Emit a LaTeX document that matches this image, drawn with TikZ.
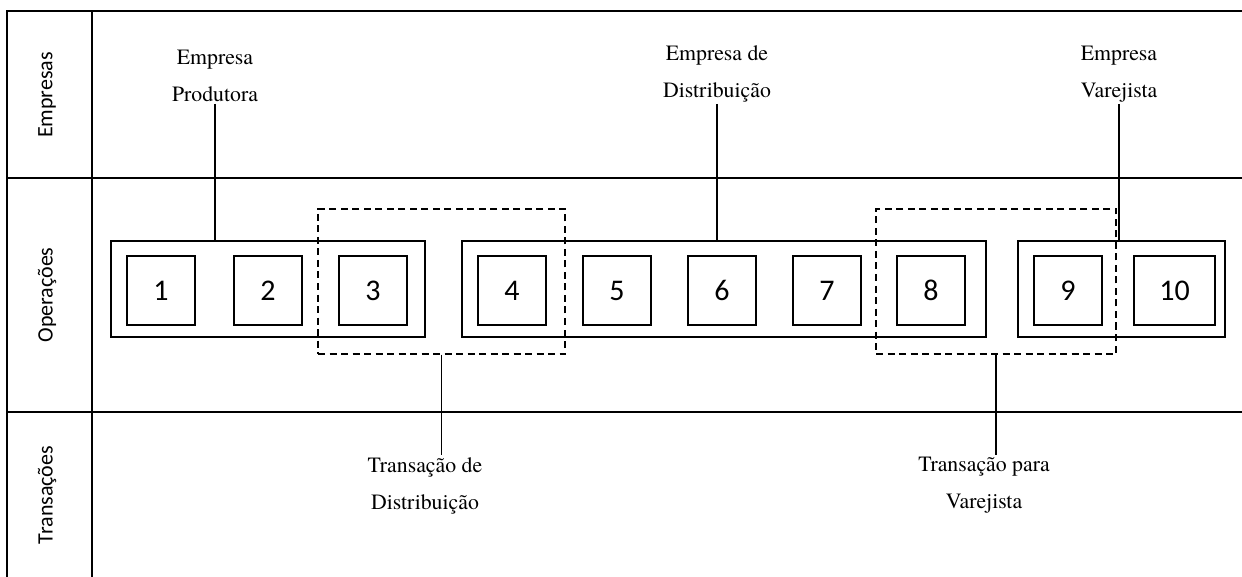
\documentclass[tikz,border=0pt]{standalone}
\usepackage{fontspec}
\newfontfamily\timesf{texgyretermes-regular.otf}
\newfontfamily\carlito{Carlito}
\usetikzlibrary{positioning}

\begin{document}
\begin{tikzpicture}[x=1pt, y=-1pt,
  op/.style={draw, line width=1.4pt, minimum width=68pt, minimum height=69pt, inner sep=0pt, font=\carlito\fontsize{30}{36}\selectfont},
  grp/.style={draw, line width=1.4pt, minimum height=96pt, inner sep=0pt},
  trans/.style={draw, line width=1.4pt, dash pattern=on 7pt off 4.5pt, minimum height=145pt, inner sep=0pt},
  lbl/.style={align=center, font=\timesf\fontsize{21.8}{37}\selectfont, inner sep=2pt},
  row/.style={rotate=90, font=\carlito\fontsize{22}{26}\selectfont},
  link/.style={line width=1.4pt}]
\useasboundingbox (0,0) rectangle (1242,577);
% table
\draw[line width=2.2pt] (1242,11) -- (7,11) -- (7,577);
\draw[line width=2.2pt] (92,11) -- (92,577);
\foreach \y in {178,412} {
 \draw[line width=2.2pt] (7,\y) -- (1242,\y);
}
\node[row] (rEmp) at (47,95) {Empresas};
\node[row] (rOpe) at (47,295) {Operações};
\node[row] (rTra) at (47,495) {Transações};
% empresas
\node[grp, minimum width=314pt] (g1) at (268,289) {};
\node[grp, minimum width=524pt] (g2) at (724,289) {};
\node[grp, minimum width=207pt] (g3) at (1121.5,289) {};
% operacoes
\foreach \n/\x in {1/161, 2/268, 3/373, 4/512, 5/617, 6/722, 7/827, 8/931, 9/1068} {
 \node[op] (o\n) at (\x,290.5) {\n};
}
\node[op, minimum width=81pt] (o10) at (1174.5,290.5) {10};
% transacoes
\node[trans, minimum width=247pt] (t1) at (441.5,281.5) {};
\node[trans, minimum width=240pt] (t2) at (996,281.5) {};
% legendas
\node[lbl, anchor=south] (eProd) at (215,104) {Empresa\\Produtora};
\node[lbl, anchor=south] (eDist) at (717,104) {Empresa de\\Distribuição};
\node[lbl, anchor=south] (eVar) at (1119,104) {Empresa\\Varejista};
\node[lbl, anchor=north] (tDist) at (425,455) {Transação de\\Distribuição};
\node[lbl, anchor=north] (tVar) at (984,455) {Transação para\\Varejista};
\draw[link] (eProd.south) -- (eProd.south |- g1.north);
\draw[link] (eDist.south) -- (eDist.south |- g2.north);
\draw[link] (eVar.south) -- (eVar.south |- g3.north);
\draw[link] (t1.south) -- (t1.south |- tDist.north);
\draw[link] (t2.south) -- (t2.south |- tVar.north);
\end{tikzpicture}
\end{document}
